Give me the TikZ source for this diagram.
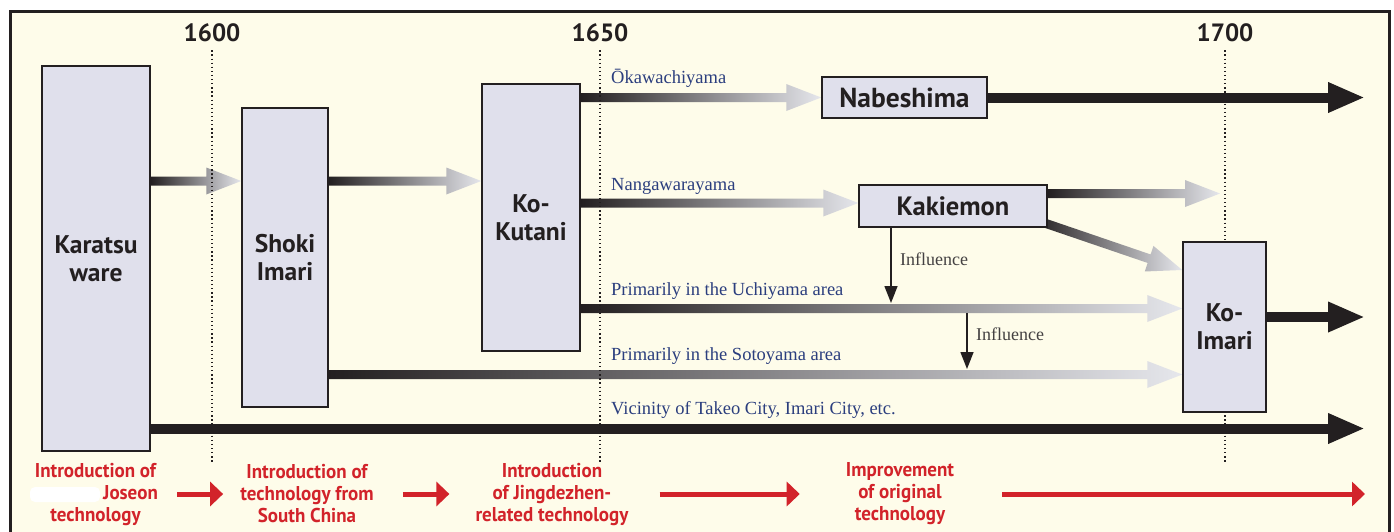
\documentclass[tikz,border=0pt]{standalone}
\usepackage{fontspec}
\setmainfont{PT Sans}
\newfontfamily\routefont{Liberation Serif}
\newfontfamily\techfont[FakeStretch=0.95]{PT Sans}
\usetikzlibrary{arrows.meta,positioning}
\pgfdeclarelayer{frame}
\pgfdeclarelayer{arrows}
\pgfsetlayers{frame,arrows,main}
\definecolor{cream}{RGB}{254,252,234}
\definecolor{boxfill}{RGB}{224,224,236}
\definecolor{inkdark}{RGB}{35,31,32}
\definecolor{fade}{RGB}{230,231,236}
\definecolor{navy}{RGB}{43,62,126}
\definecolor{techred}{RGB}{210,35,42}
\tikzset{
  ware/.style={draw=inkdark, line width=1.5pt, fill=boxfill, text=inkdark,
    font=\bfseries\fontsize{25.5}{28}\selectfont, align=center, inner sep=0pt},
  year/.style={font=\bfseries\fontsize{25}{28}\selectfont, text=inkdark, inner sep=0pt},
  route/.style={font=\routefont\fontsize{18.5}{20}\selectfont, text=navy, anchor=base west, inner sep=0pt},
  infl/.style={font=\routefont\fontsize{18}{20}\selectfont, text=inkdark!85, anchor=base west, inner sep=0pt},
  tech/.style={font=\techfont\bfseries\fontsize{20}{22}\selectfont, text=techred, align=center, inner sep=0pt},
  solid arrow/.style={line width=10pt, draw=inkdark, -{Triangle[length=37pt,width=28pt]}},
  red arrow/.style={line width=5pt, draw=techred, -{Triangle[length=13pt,width=24pt]}},
  influence arrow/.style={line width=1.5pt, draw=inkdark, -{Triangle[length=17pt,width=13pt]}},
  era line/.style={line width=1.3pt, dash pattern=on 1.3pt off 2.8pt, draw=inkdark}
}
% shaded arrow from #1 to #2 (dark at the start, pale at the tip)
\newcommand{\fadearrow}[2]{%
  \path (#1) coordinate (fa-s) (#2) coordinate (fa-e);
  \pgfpointdiff{\pgfpointanchor{fa-s}{center}}{\pgfpointanchor{fa-e}{center}}%
  \pgfgetlastxy{\fadx}{\fady}%
  \pgfmathsetmacro{\falen}{veclen(\fadx,\fady)}%
  \pgfmathsetmacro{\faang}{atan2(\fady,\fadx)}%
  \shade[shift={(fa-s)}, rotate=\faang, left color=inkdark, right color=fade]
    (0pt,-4.5pt) -- ({\falen pt-35pt},-4.5pt) -- ({\falen pt-35pt},-13.5pt)
    -- (\falen pt,0pt) -- ({\falen pt-35pt},13.5pt) -- ({\falen pt-35pt},4.5pt)
    -- (0pt,4.5pt) -- cycle;
}
\begin{document}
\begin{tikzpicture}[x=1pt,y=-1pt]
\useasboundingbox (0,0) rectangle (1394,531);
\begin{pgfonlayer}{frame}
  \fill[white] (0,0) rectangle (1394,531);
  \filldraw[fill=cream, draw=inkdark, line width=3pt] (10,11.5) rectangle (1389.5,560);
\end{pgfonlayer}

% levels
\coordinate (lvB) at (0,181);
\coordinate (lvD) at (0,308.5);
\coordinate (lvE) at (0,374.5);
\coordinate (lvF) at (0,428.5);
\coordinate (lvEnd) at (0,462);
\coordinate (rim) at (1365,0);

% years
\node[year] (y1600) at (212,33) {1600};
\node[year] (y1650) at (600,33) {1650};
\node[year] (y1700) at (1225,33) {1700};
\draw[era line] ([yshift=-8pt]y1600.south) -- (y1600 |- lvEnd);
\draw[era line] ([yshift=-8pt]y1650.south) -- (y1650 |- lvEnd);
\draw[era line] ([yshift=-8pt]y1700.south) -- (y1700 |- lvEnd);

% wares
\node[ware, minimum width=108pt, minimum height=385pt] (kar) at (96,258.5) {Karatsu\\ware};
\node[ware, minimum width=86pt, minimum height=299pt] (shoki) at (285,257.5) {Shoki\\Imari};
\node[ware, minimum width=98pt, minimum height=267pt] (kutani) at (531,217.5) {Ko-\\Kutani};
\node[ware, minimum width=165pt, minimum height=41pt, font=\bfseries\fontsize{27.5}{30}\selectfont] (nabe) at (904.5,97.5) {Nabeshima};
\node[ware, minimum width=188pt, minimum height=42pt, font=\bfseries\fontsize{26.5}{30}\selectfont] (kaki) at (953,206) {Kakiemon};
\node[ware, minimum width=83pt, minimum height=170pt] (koimari) at (1224.5,327) {Ko-\\Imari};

% routes
\begin{pgfonlayer}{arrows}
  \fadearrow{kar.east |- lvB}{shoki.west |- lvB}
  \fadearrow{shoki.east |- lvB}{kutani.west |- lvB}
  \fadearrow{kutani.east |- nabe.west}{nabe.west}
  \fadearrow{kutani.east |- 0,203}{kaki.west |- 0,203}
  \fadearrow{kaki.east |- 0,193.5}{1220,193.5}
  \fadearrow{[xshift=-12pt,yshift=-14pt]kaki.east}{[yshift=57pt]koimari.west}
  \fadearrow{kutani.east |- lvD}{koimari.west |- lvD}
  \fadearrow{shoki.east |- lvE}{koimari.west |- lvE}
  \draw[solid arrow] (nabe.east) -- (rim |- nabe.east);
  \draw[solid arrow] ([yshift=10pt]koimari.east) -- (rim |- 0,317);
  \draw[solid arrow] (kar.east |- lvF) -- (rim |- lvF);
\end{pgfonlayer}

\node[route] (okawa) at (611,83) {Ōkawachiyama};
\node[route] (nanga) at (611,190.5) {Nangawarayama};
\node[route] (uchi) at (611,295) {Primarily in the Uchiyama area};
\node[route] (soto) at (611,360) {Primarily in the Sotoyama area};
\node[route] (takeo) at (611,414) {Vicinity of Takeo City, Imari City, etc.};

% influence
\coordinate (inf1) at (891,303);
\coordinate (inf2top) at (967,313);
\coordinate (inf2) at (967,369);
\draw[influence arrow] (kaki.south -| inf1) -- (inf1);
\draw[influence arrow] (inf2top) -- (inf2);
\node[infl] (infA) at (900,265) {Influence};
\node[infl] (infB) at (976,340) {Influence};

% technology
\node[tech] (tech1) at (95.5,494) {Introduction of\\\hspace*{70pt}Joseon\\technology};
\fill[white, rounded corners=5pt] (30,487) rectangle (100,502);
\node[tech] (tech2) at (307,494) {Introduction of\\technology from\\South China};
\node[tech] (tech3) at (552,494) {Introduction\\of Jingdezhen-\\related technology};
\node[tech] (tech4) at (900,494) {Improvement\\of original\\technology};
\draw[red arrow] (tech1.east) ++(19,0) -- ([xshift=-17pt]tech2.west);
\draw[red arrow] ([xshift=29pt]tech2.east) -- ([xshift=-26pt]tech3.west);
\draw[red arrow] ([xshift=31pt]tech3.east) -- ([xshift=-46pt]tech4.west);
\draw[red arrow] ([xshift=48pt]tech4.east) -- (rim |- tech4.east);
\end{tikzpicture}
\end{document}
